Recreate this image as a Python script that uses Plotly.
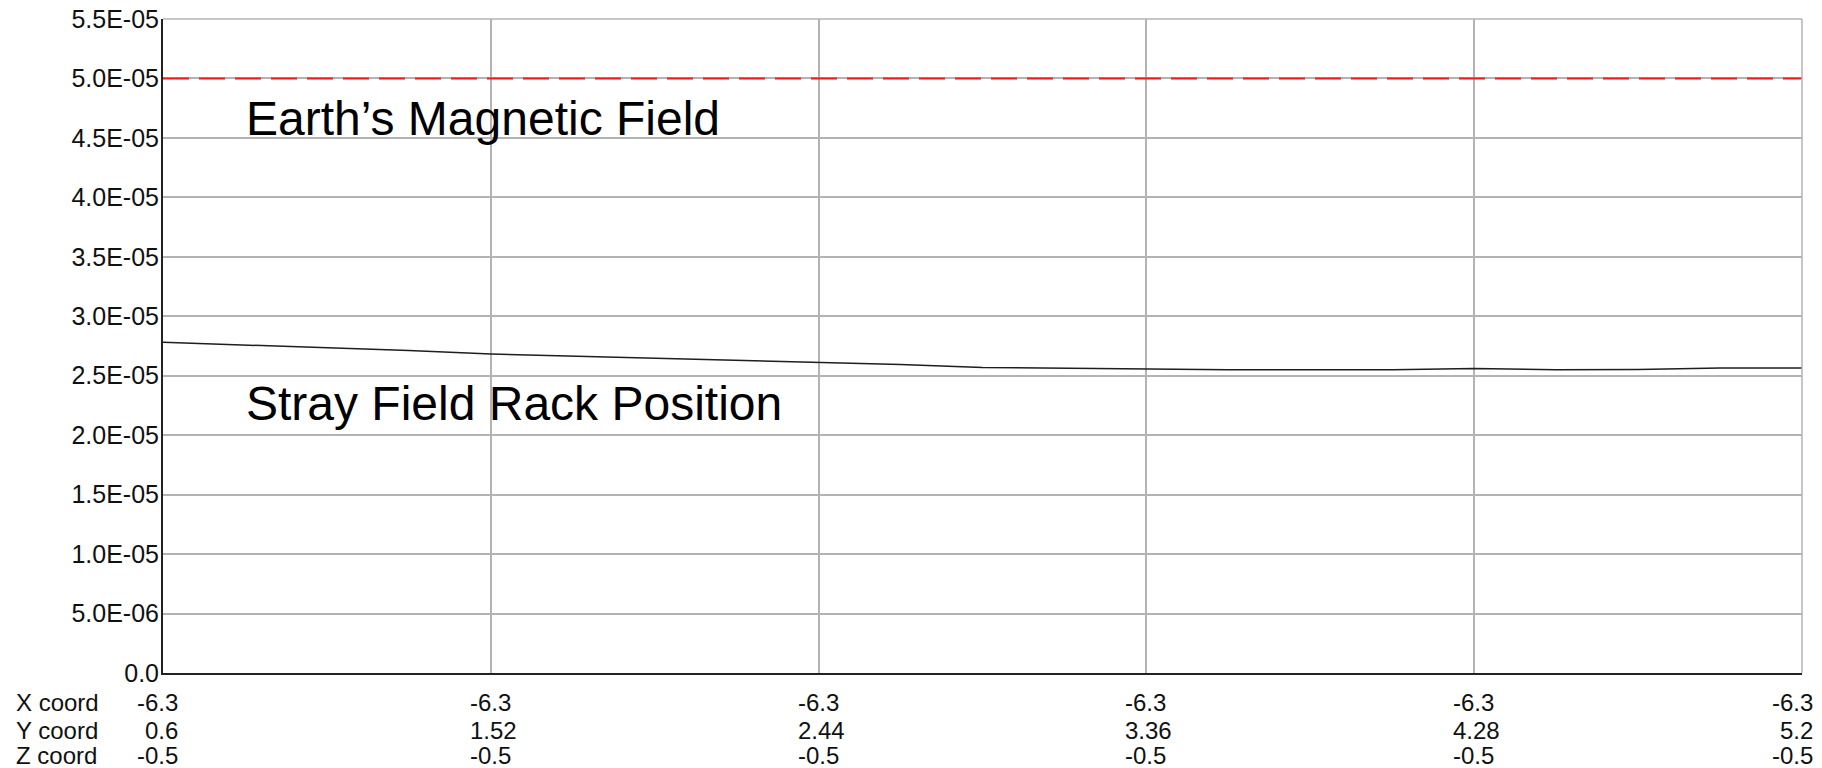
import plotly.graph_objects as go

# Sample positions along the rack (Y coordinate, metres); X and Z are fixed
y_positions = [0.6, 0.83, 1.06, 1.29, 1.52, 1.75, 1.98, 2.21, 2.44, 2.67, 2.9,
               3.13, 3.36, 3.59, 3.82, 4.05, 4.28, 4.51, 4.74, 4.97, 5.2]

# Stray magnetic field magnitude at each position (T)
stray_field = [2.781e-05, 2.759e-05, 2.738e-05, 2.712e-05, 2.683e-05, 2.666e-05,
               2.645e-05, 2.628e-05, 2.616e-05, 2.595e-05, 2.569e-05, 2.563e-05,
               2.553e-05, 2.551e-05, 2.551e-05, 2.551e-05, 2.561e-05, 2.551e-05,
               2.553e-05, 2.565e-05, 2.565e-05]

# Reference level: Earth's magnetic field (T)
earth_field = [5.0e-05, 5.0e-05]
earth_x = [0.6, 5.2]

# Axis ticks
y_tick_vals = [0, 5e-06, 1e-05, 1.5e-05, 2e-05, 2.5e-05, 3e-05, 3.5e-05,
               4e-05, 4.5e-05, 5e-05, 5.5e-05]
y_tick_text = ["0.0", "5.0E-06", "1.0E-05", "1.5E-05", "2.0E-05", "2.5E-05",
               "3.0E-05", "3.5E-05", "4.0E-05", "4.5E-05", "5.0E-05", "5.5E-05"]

x_tick_vals = [0.6, 1.52, 2.44, 3.36, 4.28, 5.2]
x_coord_text = ["-6.3", "-6.3", "-6.3", "-6.3", "-6.3", "-6.3"]
y_coord_text = ["0.6", "1.52", "2.44", "3.36", "4.28", "5.2"]
z_coord_text = ["-0.5", "-0.5", "-0.5", "-0.5", "-0.5", "-0.5"]
row_names = ["X coord", "Y coord", "Z coord"]

FONT = "Liberation Sans, Arial, sans-serif"
GRID = "#b3b3b3"

fig = go.Figure()

fig.add_trace(go.Scatter(
    x=earth_x, y=earth_field, mode="lines",
    line=dict(color="#ee1c1c", width=2, dash="26px,10px"),
    hoverinfo="skip", showlegend=False,
))

fig.add_trace(go.Scatter(
    x=y_positions, y=stray_field, mode="lines",
    line=dict(color="#1e1e1e", width=1.5),
    showlegend=False,
))

annotations = []

# Series labels inside the plot
annotations.append(dict(
    text="Earth’s Magnetic Field", xref="paper", yref="paper",
    x=0.0494, y=0.848, xanchor="left", yanchor="middle",
    showarrow=False, font=dict(family=FONT, size=48, color="black"),
))
annotations.append(dict(
    text="Stray Field Rack Position", xref="paper", yref="paper",
    x=0.0494, y=0.412, xanchor="left", yanchor="middle",
    showarrow=False, font=dict(family=FONT, size=48, color="black"),
))

# Three-row coordinate labels under each x tick
row_y = [-0.045, -0.088, -0.126]
n = len(x_tick_vals)
for i, xv in enumerate(x_tick_vals):
    if i == 0:
        anchor, shift = "right", 17
    elif i == n - 1:
        anchor, shift = "right", 13
    else:
        anchor, shift = "left", -23
    for row, texts in enumerate([x_coord_text, y_coord_text, z_coord_text]):
        annotations.append(dict(
            text=texts[i], xref="x", yref="paper", x=xv, y=row_y[row],
            xanchor=anchor, yanchor="middle", xshift=shift,
            showarrow=False, font=dict(family=FONT, size=24, color="#111"),
        ))

for row, name in enumerate(row_names):
    annotations.append(dict(
        text=name, xref="paper", yref="paper", x=-0.091, y=row_y[row],
        xanchor="left", yanchor="middle",
        showarrow=False, font=dict(family=FONT, size=24, color="#111"),
    ))

fig.update_layout(
    width=1822, height=768,
    margin=dict(l=163, r=20, t=19, b=95, autoexpand=False),
    paper_bgcolor="white", plot_bgcolor="white",
    font=dict(family=FONT, size=24, color="#111"),
    annotations=annotations,
    shapes=[
        dict(type="line", xref="paper", yref="paper", x0=0, x1=1, y0=1, y1=1,
             line=dict(color=GRID, width=1.5)),
        dict(type="line", xref="paper", yref="paper", x0=1, x1=1, y0=0, y1=1,
             line=dict(color=GRID, width=1.5)),
    ],
    xaxis=dict(
        range=[0.6, 5.2], tickvals=x_tick_vals, showticklabels=False,
        showgrid=True, gridcolor=GRID, gridwidth=1.5, zeroline=False,
        showline=True, linecolor="#222", linewidth=2, ticks="",
        automargin=False,
    ),
    yaxis=dict(
        range=[0, 5.5e-05], tickvals=y_tick_vals, ticktext=y_tick_text,
        showgrid=True, gridcolor=GRID, gridwidth=1.5, zeroline=False,
        showline=True, linecolor="#222", linewidth=2, ticks="",
        ticklabelstandoff=-3, automargin=False,
        tickfont=dict(family=FONT, size=25, color="#111"),
    ),
)

fig.write_html("out.html")
